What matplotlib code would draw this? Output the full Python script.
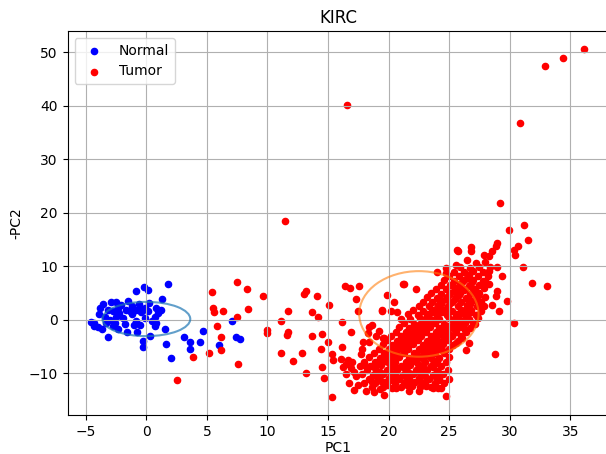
import matplotlib
matplotlib.use("Agg")
import matplotlib.pyplot as plt
from matplotlib.patches import Ellipse
import numpy as np

title = "KIRC"
xlabel = "PC1"
ylabel = "-PC2"
labels = ["Normal", "Tumor"]

normal_pc1 = [-4.56, -4.34, -3.65, -3.18, -3.81, -3.59, -3.45, -3.3, -2.96, -2.54,
              -3.18, -2.76, -2.35, -2.27, -2.54, -2.62, -2.76, -1.52, -1.66, -1.38,
              -1.16, -0.83, -0.22, 0.14, -0.88, -0.55, -0.41, -0.14, 0.22, 0.14,
              -0.83, -0.55, -0.75, -1.6, -0.28, -0.28, 0.33, 0.69, 0.83, 0.69,
              0.97, 0.83, 1.24, 1.33, 1.8, 1.57, 1.66, 2.07, 3.09, 3.59,
              3.59, 4.42, 4.7, 6.02, 7.04, 7.4, 7.73,
              -2.1, -1.9, -1.2, -3.9, -3.0, -0.1, 0.5, -1.0, -2.3, -4.0, -0.6, -1.8, -4.3]
normal_pc2 = [-0.5, -1.25, -1.7, -3.25, 2.3, 2.9, 0.44, -0.6, 3.3, 3.3,
              1.9, 1.7, 2.2, 1.25, 0.6, -0.6, -1.25, 3.6, 1.9, 1.6,
              1.06, 5.4, 6.1, 5.6, 1.9, 2.3, 1.4, 2.2, 3.1, 1.6,
              -0.3, -0.9, -2.2, -2.2, -3.9, -5.0, -3.1, -1.25, -0.6, 0.6,
              1.25, 2.2, 1.9, 3.9, 6.7, -1.7, -4.6, -7.2, -3.3, -4.2,
              -5.5, -4.1, -2.1, -4.8, -0.2, -3.3, -3.6,
              2.8, 0.3, 2.6, 1.0, -0.1, 0.4, -0.2, -1.0, -1.8, -1.4, 3.0, -0.8, -0.6]

tumor_pc1 = [
    2.54, 3.87, 5.17, 5.39, 5.52, 5.58, 6.3, 5.86, 6.13, 6.13, 7.51, 8.34, 8.43, 7.51, 7.6,
    9.59, 10.0, 10.0, 11.1, 11.7, 11.7, 11.65, 11.1, 12.14, 12.83, 13.02, 13.2, 13.7, 14.1, 14.2,
    13.7, 14.53, 14.45, 15.03, 15.08, 14.53, 14.67, 13.2, 15.36, 15.4, 16.18, 16.18, 16.1, 16.46, 16.68,
    16.73, 15.3, 16.87, 16.4, 16.79, 17.55, 17.28, 17.5, 17.88, 17.69, 17.14, 17.14, 18.16, 17.97, 18.38,
    18.33, 19.48, 19.89, 20.44, 20.16, 20.71, 21.2, 22.3, 19.6, 19.6, 18.65, 20.58, 21.68, 22.5, 23.7,
    24.1, 24.7, 16.55, 29.2, 30.87, 32.88, 34.36, 36.16, 11.45, 29.95, 31.18, 31.5, 30.7, 30.36, 30.44,
    28.98, 28.85, 28.57, 28.3, 27.88, 27.97, 26.84, 26.79, 25.66, 25.7, 26.5, 27.2, 25.55, 24.73, 24.73,
    23.96, 28.3, 28.98, 29.34, 31.1, 31.87, 33.1, 29.75, 30.36, 28.8, 29.12, 28.85, 28.57, 28.98, 27.88,
    28.0, 27.33, 27.0, 26.32, 26.1, 26.6, 26.4, 25.55, 21.3, 19.45, 19.56,
    16.9, 17.3, 16.5, 17.0, 17.5, 16.2, 18.8, 19.3, 17.8, 18.4, 19.0, 18.6, 19.2,
]
tumor_pc2 = [
    -11.25, -6.9, -6.25, 5.2, 2.2, 1.4, 1.7, -1.25, -3.3, -5.6, 7.1, 5.8, 2.1, 0.44, -8.3,
    4.5, -1.9, -2.5, -0.2, 1.7, -2.2, -2.9, -6.25, -7.7, -6.25, 4.8, 5.4, 1.4, 4.5, 0.6,
    -3.1, -2.7, -5.5, -4.2, 2.7, -8.75, -10.9, -10.0, -6.4, -7.5, -0.44, -5.0, -7.3, -8.3, -7.5,
    -11.9, -14.4, -2.3, 6.4, 5.9, 6.4, 3.9, 1.7, -4.1, -6.4, -9.7, -13.1, -13.3, -8.4, -1.4,
    -2.5, 1.75, 4.7, 3.25, 1.7, 1.4, 6.7, 5.8, -3.4, -14.1, -11.6, -12.8, -13.3, -13.3, -12.8,
    -12.7, -14.25, 40.1, 21.9, 36.8, 47.5, 49.0, 50.7, 18.5, 16.7, 17.8, 15.0, 13.75, 13.1, 12.1,
    14.4, 13.75, 12.8, 11.9, 12.1, 10.9, 13.6, 12.8, 13.1, 12.8, 11.1, 10.6, 10.2, 9.6, 8.75,
    8.9, 9.1, 9.8, 8.25, 9.8, 6.9, 6.25, 3.6, -0.6, -6.4, 1.6, 4.4, 2.8, 5.3, 2.5,
    7.2, 0.9, -0.6, -1.9, -3.4, -4.4, -5.6, -4.4, 6.75, 1.7, -3.4,
    -9.0, -10.6, -10.2, -7.9, -12.2, -8.8, -13.5, -13.0, -5.5, -4.2, -3.0, -1.0, -2.0,
]

# dense core of tumor samples
tumor_core_pc1 = [
    18.6, 19.5, 20.3, 21.0, 21.9, 22.6, 23.5, 24.3,
    18.0, 18.9, 19.7, 20.5, 21.3, 22.2, 23.0, 23.8, 24.6,
    18.4, 19.2, 20.0, 20.9, 21.7, 22.5, 23.3, 24.2, 25.0,
    17.8, 18.7, 19.5, 20.4, 21.2, 22.0, 22.8, 23.7, 24.5,
    18.2, 19.0, 19.9, 20.7, 21.5, 22.3, 23.2, 24.0, 24.9,
    17.6, 18.5, 19.4, 20.2, 21.0, 21.8, 22.7, 23.5, 24.3,
    18.0, 18.9, 19.7, 20.5, 21.4, 22.2, 23.0, 23.9, 24.7,
    18.4, 19.3, 20.1, 20.9, 21.7, 22.6, 23.4, 24.2, 25.0,
    18.8, 19.6, 20.4, 21.3, 22.1, 22.9, 23.8, 24.6,
    19.2, 20.0, 20.8, 21.6, 22.5, 23.3, 24.1, 25.0,
    19.5, 20.3, 21.2, 22.0, 22.8, 23.7, 24.5, 25.3,
    19.9, 20.7, 21.5, 22.4, 23.2, 24.0, 24.9, 25.7,
    20.2, 21.0, 21.9, 22.7, 23.5, 24.4, 25.2, 26.0,
    20.6, 21.4, 22.2, 23.1, 23.9, 24.7, 25.6, 26.4,
    20.9, 21.7, 22.6, 23.4, 24.2, 25.1, 25.9, 26.7,
    21.3, 22.1, 22.9, 23.8, 24.6, 25.4, 26.3, 27.1,
    21.0, 21.8, 22.6, 23.4, 24.2, 25.0, 25.8, 26.6, 27.4,
    21.6, 22.4, 23.2, 24.0, 24.8, 25.6, 26.4, 27.2,
    22.0, 22.8, 23.6, 24.4, 25.2, 26.0, 26.8, 27.6,
    22.5, 23.3, 24.1, 24.9, 25.7, 26.5, 27.3,
    22.8, 23.6, 24.4, 25.2, 26.0, 26.8, 27.6,
    23.2, 24.0, 24.8, 25.6, 26.4, 27.2, 28.0,
    23.5, 24.3, 25.1, 25.9, 26.7, 27.5,
    23.9, 24.7, 25.5, 26.3, 27.1, 27.9,
    24.3, 25.1, 25.9, 26.7, 27.5, 28.3,
    24.6, 25.4, 26.2, 27.0, 27.8,
    25.0, 25.8, 26.6, 27.4, 28.2,
    25.4, 26.2, 27.0, 27.8,
    25.9, 26.7, 27.5, 28.4,
    # in-between samples
    19.9, 21.5, 23.1,
    19.4, 20.2, 21.8, 22.6, 24.2,
    19.0, 20.6, 21.4, 23.0, 23.8,
    19.3, 20.1, 21.7, 22.5, 24.1,
    18.9, 20.5, 21.3, 22.9, 23.7,
    19.2, 20.0, 21.6, 22.4, 24.0,
    19.6, 20.4, 22.0, 22.8, 23.6,
    20.0, 20.8, 22.4, 23.2,
    20.4, 21.2, 22.8, 23.6, 24.4,
    20.8, 21.6, 23.2, 24.0,
    21.1, 21.9, 23.5, 24.3,
    21.5, 22.3, 23.9, 24.7,
    21.8, 22.6, 24.2, 25.0,
    22.2, 23.0, 24.6, 25.4,
    22.5, 23.3, 24.9, 25.7,
    22.9, 23.7, 25.3, 26.1,
    23.2, 24.0, 25.6, 26.4,
    23.6, 24.4, 26.0, 26.8,
    24.0, 24.8, 26.4,
    24.3, 25.1, 26.7,
    24.7, 25.5, 27.1,
    25.0, 25.8, 27.4,
    25.4, 26.2, 27.0,
    25.8, 26.6,
    26.1, 26.9,
    26.5,
]
tumor_core_pc2 = [
    -12.6, -12.5, -12.7, -12.6, -12.4, -12.6, -12.5, -12.7,
    -11.8, -11.9, -11.7, -11.8, -11.9, -11.7, -11.8, -11.9, -11.8,
    -11.0, -11.1, -10.9, -11.0, -11.1, -10.9, -11.0, -11.1, -11.0,
    -10.2, -10.3, -10.1, -10.2, -10.3, -10.1, -10.2, -10.3, -10.2,
    -9.4, -9.5, -9.3, -9.4, -9.5, -9.3, -9.4, -9.5, -9.4,
    -8.6, -8.7, -8.5, -8.6, -8.7, -8.5, -8.6, -8.7, -8.6,
    -7.8, -7.9, -7.7, -7.8, -7.9, -7.7, -7.8, -7.9, -7.8,
    -7.0, -7.1, -6.9, -7.0, -7.1, -6.9, -7.0, -7.1, -7.0,
    -6.2, -6.3, -6.1, -6.2, -6.3, -6.1, -6.2, -6.3,
    -5.4, -5.5, -5.3, -5.4, -5.5, -5.3, -5.4, -5.5,
    -4.6, -4.7, -4.5, -4.6, -4.7, -4.5, -4.6, -4.7,
    -3.8, -3.9, -3.7, -3.8, -3.9, -3.7, -3.8, -3.9,
    -3.0, -3.1, -2.9, -3.0, -3.1, -2.9, -3.0, -3.1,
    -2.2, -2.3, -2.1, -2.2, -2.3, -2.1, -2.2, -2.3,
    -1.4, -1.5, -1.3, -1.4, -1.5, -1.3, -1.4, -1.5,
    -0.6, -0.7, -0.5, -0.6, -0.7, -0.5, -0.6, -0.7,
    0.2, 0.1, 0.3, 0.2, 0.1, 0.3, 0.2, 0.1, 0.3,
    1.0, 0.9, 1.1, 1.0, 0.9, 1.1, 1.0, 0.9,
    1.8, 1.7, 1.9, 1.8, 1.7, 1.9, 1.8, 1.7,
    2.6, 2.5, 2.7, 2.6, 2.5, 2.7, 2.6,
    3.4, 3.3, 3.5, 3.4, 3.3, 3.5, 3.4,
    4.2, 4.1, 4.3, 4.2, 4.1, 4.3, 4.2,
    5.0, 4.9, 5.1, 5.0, 4.9, 5.1,
    5.8, 5.7, 5.9, 5.8, 5.7, 5.9,
    6.6, 6.5, 6.7, 6.6, 6.5, 6.7,
    7.4, 7.3, 7.5, 7.4, 7.3,
    8.2, 8.1, 8.3, 8.2, 8.1,
    9.0, 8.9, 9.1, 9.0,
    9.8, 9.7, 9.9, 9.8,
    # in-between samples
    -12.2, -12.1, -12.3,
    -11.4, -11.3, -11.5, -11.4, -11.3,
    -10.6, -10.5, -10.7, -10.6, -10.5,
    -9.8, -9.7, -9.9, -9.8, -9.7,
    -9.0, -8.9, -9.1, -9.0, -8.9,
    -8.2, -8.1, -8.3, -8.2, -8.1,
    -7.4, -7.3, -7.5, -7.4, -7.3,
    -6.6, -6.5, -6.7, -6.6,
    -5.8, -5.7, -5.9, -5.8, -5.7,
    -5.0, -4.9, -5.1, -5.0,
    -4.2, -4.1, -4.3, -4.2,
    -3.4, -3.3, -3.5, -3.4,
    -2.6, -2.5, -2.7, -2.6,
    -1.8, -1.7, -1.9, -1.8,
    -1.0, -0.9, -1.1, -1.0,
    -0.2, -0.1, -0.3, -0.2,
    0.6, 0.7, 0.5, 0.6,
    1.4, 1.5, 1.3, 1.4,
    2.2, 2.3, 2.1,
    3.0, 3.1, 2.9,
    3.8, 3.9, 3.7,
    4.6, 4.7, 4.5,
    5.4, 5.5, 5.3,
    6.2, 6.3,
    7.0, 7.1,
    7.8,
]

normal_ellipse = (0.0, 0.15, 7.25, 6.4)
tumor_ellipse = (22.5, 1.1, 9.85, 16.0)

fig = plt.figure(figsize=(6.06, 4.54), dpi=100)
ax = fig.add_axes([0.1116, 0.0859, 0.8934, 0.8458])

ax.scatter(normal_pc1, normal_pc2, s=20, c="blue", label=labels[0])
ax.scatter(tumor_pc1 + tumor_core_pc1, tumor_pc2 + tumor_core_pc2, s=20, c="red", label=labels[1])

for (cx, cy, w, h), col, a in [(normal_ellipse, "C0", 0.7), (tumor_ellipse, "C1", 0.6)]:
    e = Ellipse((cx, cy), w, h, fill=False, edgecolor=col, alpha=a, lw=1.5, zorder=3)
    ax.add_patch(e)

ax.set_xlim(-6.5, 38.2)
ax.set_ylim(-17.8, 54)
ax.set_xticks(np.arange(-5, 36, 5))
ax.set_yticks(np.arange(-10, 51, 10))
ax.grid(True)
ax.set_title(title)
ax.set_xlabel(xlabel, labelpad=1.5)
ax.set_ylabel(ylabel)
ax.legend(loc="upper left")

fig.savefig("out.png", dpi=100)
